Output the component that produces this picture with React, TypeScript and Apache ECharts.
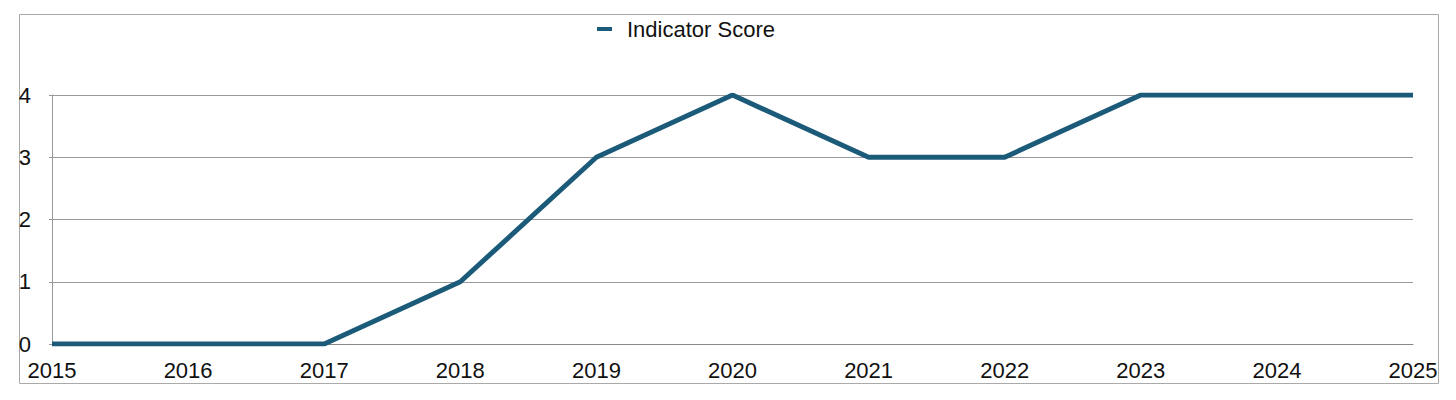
import React, { useEffect, useRef } from "react";
import * as echarts from "echarts";

const years = ["2015", "2016", "2017", "2018", "2019", "2020", "2021", "2022", "2023", "2024", "2025"];
const scores = [0, 0, 0, 1, 3, 4, 3, 3, 4, 4, 4];
const seriesName = "Indicator Score";

const FONT = "'Liberation Sans', Arial, Helvetica, sans-serif";
const LINE_COLOR = "#1b5b79";

export default function App() {
  const ref = useRef<HTMLDivElement>(null);
  useEffect(() => {
    if (!ref.current) return;
    const chart = echarts.init(ref.current, null, { renderer: "svg" });
    chart.setOption({
      animation: false,
      backgroundColor: "#ffffff",
      textStyle: { fontFamily: FONT },
      graphic: [
        {
          type: "rect",
          shape: { x: 19.5, y: 14.5, width: 1419, height: 369 },
          style: { fill: "none", stroke: "#aaaaaa", lineWidth: 1 },
          silent: true,
          z: -1,
        },
      ],
      legend: {
        show: true,
        left: 592,
        top: 13,
        icon: "rect",
        itemWidth: 15,
        itemHeight: 4,
        textStyle: { fontFamily: FONT, fontSize: 22, color: "#111", padding: [0, 0, 0, 10] },
        data: [{ name: seriesName, itemStyle: { color: LINE_COLOR } }],
      },
      grid: { left: 52, right: 43, top: 95, bottom: 56, containLabel: false },
      xAxis: {
        type: "category",
        data: years,
        boundaryGap: false,
        axisLine: { show: true, lineStyle: { color: "#888", width: 1 } },
        axisTick: { show: false },
        axisLabel: { fontFamily: FONT, fontSize: 22, color: "#111", margin: 15 },
        splitLine: { show: false },
      },
      yAxis: {
        type: "value",
        min: 0,
        max: 4,
        interval: 1,
        axisLine: { show: true, lineStyle: { color: "#999", width: 1 } },
        axisTick: { show: true, length: 3, lineStyle: { color: "#999" } },
        axisLabel: { fontFamily: FONT, fontSize: 22, color: "#111", margin: 21 },
        splitLine: { show: true, lineStyle: { color: "#999", width: 1 } },
      },
      series: [
        {
          name: seriesName,
          type: "line",
          data: scores,
          showSymbol: false,
          symbol: "none",
          lineStyle: { color: LINE_COLOR, width: 5 },
          itemStyle: { color: LINE_COLOR },
        },
      ],
    });
    return () => chart.dispose();
  }, []);
  return (
    <div
      ref={ref}
      style={{ position: "absolute", left: 0, top: 0, width: 1456, height: 400 }}
    />
  );
}
